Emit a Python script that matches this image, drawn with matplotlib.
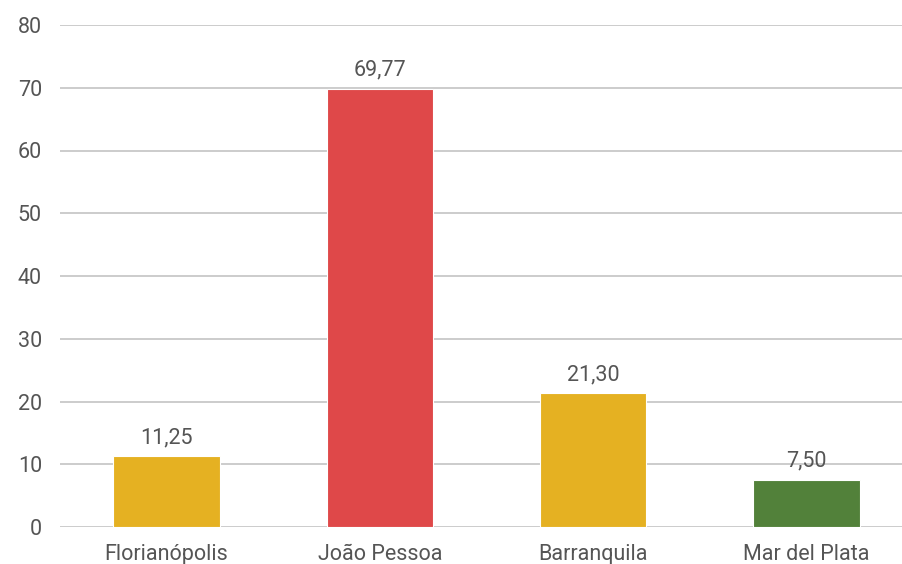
import matplotlib
matplotlib.use("Agg")
import matplotlib.pyplot as plt

cities = ["Florianópolis", "João Pessoa", "Barranquila", "Mar del Plata"]
values = [11.25, 69.77, 21.30, 7.50]
bar_colors = ["#E5B122", "#DF4849", "#E5B122", "#52813A"]
y_ticks = [0, 10, 20, 30, 40, 50, 60, 70, 80]

plt.rcParams["font.family"] = ["Roboto", "DejaVu Sans"]
text_color = "#555555"

W, H = 903, 564
fig = plt.figure(figsize=(W / 100, H / 100), dpi=100)
left, right, bottom, top = 60, 913, 527, 25
ax = fig.add_axes([left / W, (H - bottom) / H, (right - left) / W, (bottom - top) / H])

x = range(len(cities))
bars = ax.bar(x, values, width=0.5, color=bar_colors, edgecolor="white",
              linewidth=0.8, zorder=3)

for b, v in zip(bars, values):
    ax.annotate(f"{v:.2f}".replace(".", ","),
                (b.get_x() + b.get_width() / 2, v),
                xytext=(0, 6), textcoords="offset points",
                ha="center", va="bottom", fontsize=15.5, color=text_color)

ax.set_xlim(-0.5, len(cities) - 0.5)
ax.set_ylim(0, 80)
ax.set_yticks(y_ticks)
ax.set_yticklabels([str(t) for t in y_ticks])
ax.set_xticks(list(x))
ax.set_xticklabels(cities)
ax.tick_params(axis="y", length=0, pad=13, labelsize=15.5, labelcolor=text_color)
ax.tick_params(axis="x", length=0, pad=12, labelsize=15.5, labelcolor=text_color)
ax.grid(axis="y", color="#CCCCCC", linewidth=1.4, zorder=0)
for s in ax.spines.values():
    s.set_visible(False)

fig.savefig("out.png", dpi=100)
